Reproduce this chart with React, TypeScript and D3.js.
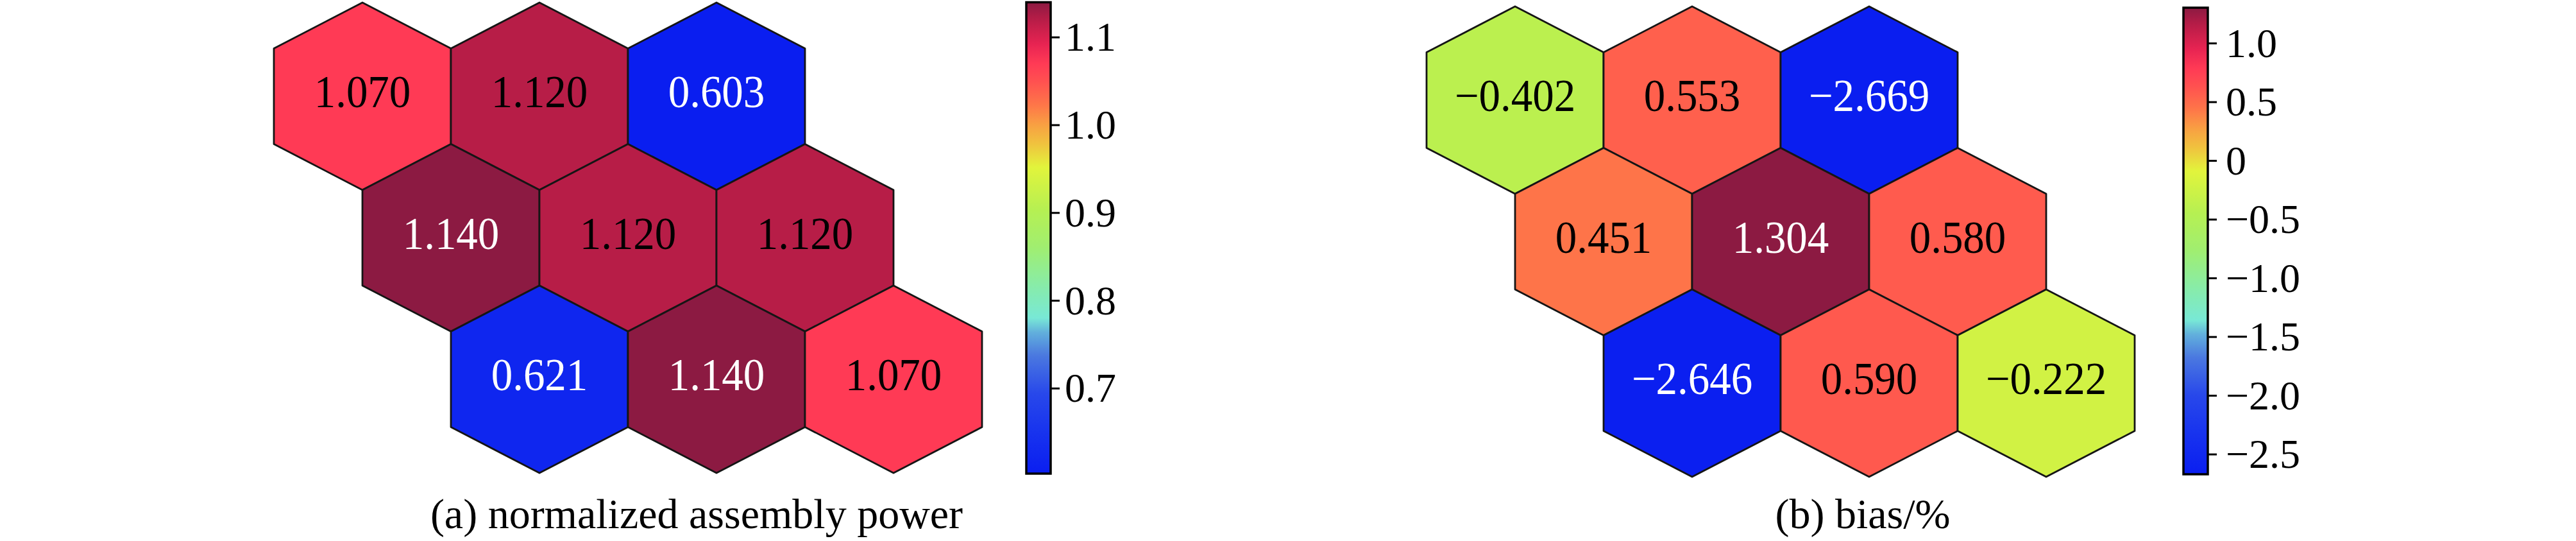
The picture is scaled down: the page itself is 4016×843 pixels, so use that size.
import React from "react";
import * as d3 from "d3";

// ---------- data ----------
const rowIndex = [0, 0, 0, 1, 1, 1, 2, 2, 2];
const colIndex = [0, 1, 2, 0, 1, 2, 0, 1, 2];

const assemblyPower = [1.07, 1.12, 0.603, 1.14, 1.12, 1.12, 0.621, 1.14, 1.07];
const assemblyPowerLabels = ["1.070", "1.120", "0.603", "1.140", "1.120", "1.120", "0.621", "1.140", "1.070"];

const biasPercent = [-0.402, 0.553, -2.669, 0.451, 1.304, 0.58, -2.646, 0.59, -0.222];
const biasPercentLabels = ["\u22120.402", "0.553", "\u22122.669", "0.451", "1.304", "0.580", "\u22122.646", "0.590", "\u22120.222"];

const powerTicks = [0.7, 0.8, 0.9, 1.0, 1.1];
const powerTickLabels = ["0.7", "0.8", "0.9", "1.0", "1.1"];

const biasTicks = [-2.5, -2.0, -1.5, -1.0, -0.5, 0, 0.5, 1.0];
const biasTickLabels = ["\u22122.5", "\u22122.0", "\u22121.5", "\u22121.0", "\u22120.5", "0", "0.5", "1.0"];

const captionA = "(a) normalized assembly power";
const captionB = "(b) bias/%";

// ---------- colormap (normalised position -> colour) ----------
const cmapPos = [0, 0.1, 0.17, 0.25, 0.3, 0.33, 0.4, 0.48, 0.56, 0.65, 0.7, 0.74, 0.78, 0.83, 0.87, 0.91, 0.95, 0.97, 1.0];
const cmapColors = [
  "#0a1ef0", "#1a36ee", "#2848ea", "#4a78e0", "#62b0dc", "#78e8d6", "#88eca8", "#a0ee70",
  "#b6f052", "#e2f43c", "#f0c23e", "#f8a042", "#fe7848", "#ff5250", "#ff3a55", "#e82452",
  "#c41e4a", "#b01c46", "#8c1a42",
];
const cmap = d3.scaleLinear<string>().domain(cmapPos).range(cmapColors).interpolate(d3.interpolateRgb).clamp(true);

const FONT = "'Liberation Serif', 'Times New Roman', serif";

type PanelProps = {
  id: string;
  values: number[];
  labels: string[];
  ticks: number[];
  tickLabels: string[];
  caption: string;
  x0: number;
  y0: number;
  cbX: number;
  cbTop: number;
  cbBottom: number;
  labelGap: number;
  captionX: number;
};

const PITCH_X = 276;
const PITCH_Y = 220.5;
const HALF_W = 138;
const RADIUS = 146;

function Panel(p: PanelProps) {
  const ext = d3.extent(p.values) as [number, number];
  const norm = d3.scaleLinear().domain(ext).range([0, 1]);
  const color = (v: number) => cmap(norm(v));

  const xs = d3.scaleLinear().domain([0, 1]).range([p.x0, p.x0 + PITCH_X]);
  const ys = d3.scaleLinear().domain([0, 1]).range([p.y0, p.y0 + PITCH_Y]);
  const side = PITCH_Y - RADIUS;

  const hexPath = (cx: number, cy: number) =>
    (d3.line()([
      [cx, cy - RADIUS],
      [cx + HALF_W, cy - side],
      [cx + HALF_W, cy + side],
      [cx, cy + RADIUS],
      [cx - HALF_W, cy + side],
      [cx - HALF_W, cy - side],
    ]) as string) + "Z";

  const cbW = 38;
  const cbY = d3.scaleLinear().domain(ext).range([p.cbBottom, p.cbTop]);
  const gradStops = d3.range(0, 101).map((i) => i / 100);

  return (
    <g>
      <defs>
        <linearGradient id={`grad-${p.id}`} x1="0" y1="1" x2="0" y2="0">
          {gradStops.map((t) => (
            <stop key={t} offset={t} stopColor={cmap(t)} />
          ))}
        </linearGradient>
      </defs>
      {p.values.map((v, i) => {
        const cx = xs(colIndex[i] + 0.5 * rowIndex[i]);
        const cy = ys(rowIndex[i]);
        const t = norm(v);
        const textColor = t < 0.15 || t > 0.98 ? "#ffffff" : "#000000";
        return (
          <g key={i}>
            <path d={hexPath(cx, cy)} fill={color(v)} stroke="#151515" strokeWidth={2.8} strokeLinejoin="round" />
            <text
              transform={`translate(${cx},${cy + 17}) scale(1,1.06)`}
              textAnchor="middle"
              fontFamily={FONT}
              fontSize={67}
              fill={textColor}
            >
              {p.labels[i]}
            </text>
          </g>
        );
      })}
      {/* colorbar */}
      <rect x={p.cbX} y={p.cbTop} width={cbW} height={p.cbBottom - p.cbTop} fill={`url(#grad-${p.id})`} />
      <rect x={p.cbX} y={p.cbTop} width={cbW} height={p.cbBottom - p.cbTop} fill="none" stroke="#000" strokeWidth={3.5} />
      {p.ticks.map((tv, i) => (
        <g key={tv}>
          <line x1={p.cbX + cbW} x2={p.cbX + cbW + 14} y1={cbY(tv)} y2={cbY(tv)} stroke="#000" strokeWidth={3} />
          <text x={p.cbX + cbW + p.labelGap} y={cbY(tv) + 21} fontFamily={FONT} fontSize={64} fill="#000">
            {p.tickLabels[i]}
          </text>
        </g>
      ))}
      <text x={p.captionX} y={823} textAnchor="middle" fontFamily={FONT} fontSize={66} fill="#000">
        {p.caption}
      </text>
    </g>
  );
}

export default function App() {
  return (
    <svg
      width={4016}
      height={843}
      viewBox="0 0 4016 843"
      style={{ position: "absolute", left: 0, top: 0, background: "#fff" }}
    >
      <rect x={0} y={0} width={4016} height={843} fill="#fff" />
      <Panel
        id="a"
        values={assemblyPower}
        labels={assemblyPowerLabels}
        ticks={powerTicks}
        tickLabels={powerTickLabels}
        caption={captionA}
        x0={565}
        y0={150}
        cbX={1600}
        cbTop={3.5}
        cbBottom={738}
        labelGap={22}
        captionX={1086}
      />
      <Panel
        id="b"
        values={biasPercent}
        labels={biasPercentLabels}
        ticks={biasTicks}
        tickLabels={biasTickLabels}
        caption={captionB}
        x0={2362}
        y0={156}
        cbX={3404}
        cbTop={12}
        cbBottom={739}
        labelGap={28}
        captionX={2904}
      />
    </svg>
  );
}
